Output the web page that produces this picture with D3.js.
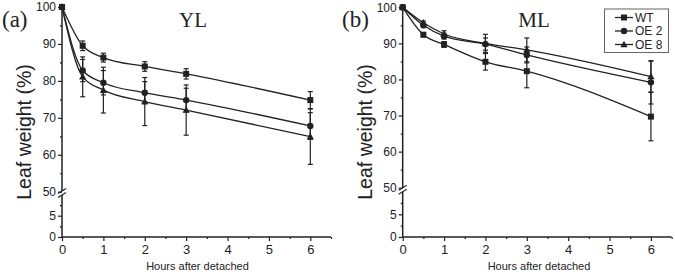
<!DOCTYPE html>
<html><head><meta charset="utf-8">
<script src="https://cdn.jsdelivr.net/npm/d3@7"></script>
<style>
body{margin:0;background:#fff;}
svg{display:block;}
text{font-family:"Liberation Sans",Arial,sans-serif;fill:#222;}
</style></head><body>
<svg id="c" width="675" height="275"></svg>
<script>
const hours = [0, 0.5, 1, 2, 3, 6];
const seriesNames = ["WT", "OE 2", "OE 8"];
const markerTypes = ["square", "circle", "triangle"];
const xTicks = [0, 1, 2, 3, 4, 5, 6];
const yUpperTicks = [50, 60, 70, 80, 90, 100];
const yLowerTicks = [0, 5];

// YL panel
const ylWT = [100, 89.5, 86.3, 83.9, 81.9, 74.8];
const ylWTErr = [0, 1.3, 1.2, 1.3, 1.4, 2.3];
const ylOE2 = [100, 82.8, 79.5, 76.8, 74.8, 67.8];
const ylOE2Err = [0, 3.0, 3.3, 3.0, 3.2, 3.6];
const ylOE8 = [100, 81.1, 77.5, 74.4, 72.1, 64.9];
const ylOE8Err = [0, 5.4, 6.2, 6.5, 6.8, 7.5];
// ML panel
const mlWT = [100, 92.4, 89.7, 84.9, 82.3, 69.7];
const mlWTErr = [0, 0.6, 0.8, 2.3, 4.6, 6.7];
const mlOE2 = [100, 95.0, 92.0, 89.8, 86.8, 79.2];
const mlOE2Err = [0, 0.6, 0.8, 1.7, 2.2, 6.0];
const mlOE8 = [100, 95.7, 92.6, 90.0, 88.2, 80.8];
const mlOE8Err = [0, 0.5, 0.9, 2.5, 3.3, 4.3];

const svg = d3.select("#c");
const ink = "#222";

function panel(cfg) {
  const g = svg.append("g");
  const x = d3.scaleLinear().domain([0, 6.5]).range([cfg.x0, cfg.x1]);
  const yU = d3.scaleLinear().domain([50, 100]).range([cfg.y50, cfg.y100]);
  const yL = d3.scaleLinear().domain([0, 10]).range([cfg.y0, cfg.y10]);
  const y = v => v >= 50 ? yU(v) : yL(v);
  const breakY = (yU(50) + yL(10)) / 2;

  // y axis line (with break)
  g.append("line").attr("x1", x(0)).attr("x2", x(0)).attr("y1", yL(0)).attr("y2", breakY + 2)
    .attr("stroke", ink).attr("stroke-width", 1.5);
  g.append("line").attr("x1", x(0)).attr("x2", x(0)).attr("y1", breakY - 2).attr("y2", yU(100))
    .attr("stroke", ink).attr("stroke-width", 1.5);
  [-2, 2].forEach(d => {
    g.append("line").attr("x1", x(0) - 4).attr("x2", x(0) + 4)
      .attr("y1", breakY + d + 2.5).attr("y2", breakY + d - 2.5)
      .attr("stroke", ink).attr("stroke-width", 1.2);
  });

  const styleAxis = sel => {
    sel.select(".domain").remove();
    sel.selectAll("line").attr("stroke", ink).attr("stroke-width", 1.2);
    sel.selectAll("text").attr("font-size", 12).attr("fill", ink)
      .style("font-family", '"Liberation Sans",Arial,sans-serif');
  };
  g.append("g").attr("transform", `translate(${x(0)},0)`)
    .call(d3.axisLeft(yU).tickValues(yUpperTicks).tickSize(4).tickPadding(2)).call(styleAxis);
  g.append("g").attr("transform", `translate(${x(0)},0)`)
    .call(d3.axisLeft(yU).tickValues([55, 65, 75, 85, 95]).tickSize(2).tickFormat("")).call(styleAxis);
  g.append("g").attr("transform", `translate(${x(0)},0)`)
    .call(d3.axisLeft(yL).tickValues(yLowerTicks).tickSize(4).tickPadding(2)).call(styleAxis);
  g.append("g").attr("transform", `translate(${x(0)},0)`)
    .call(d3.axisLeft(yL).tickValues([2.5, 7.5]).tickSize(2).tickFormat("")).call(styleAxis);

  // x axis
  g.append("line").attr("x1", x(0)).attr("x2", x(6.5)).attr("y1", yL(0)).attr("y2", yL(0))
    .attr("stroke", ink).attr("stroke-width", 1.5);
  const xa = g.append("g").attr("transform", `translate(0,${yL(0)})`)
    .call(d3.axisBottom(x).tickValues(xTicks).tickSize(4).tickPadding(4).tickFormat(d3.format("d"))).call(styleAxis);
  xa.selectAll("text").attr("font-size", 13);
  g.append("g").attr("transform", `translate(0,${yL(0)})`)
    .call(d3.axisBottom(x).tickValues([0.5, 1.5, 2.5, 3.5, 4.5, 5.5, 6.5]).tickSize(2).tickFormat("")).call(styleAxis);

  // labels
  g.append("text").attr("x", cfg.xlabX).attr("y", 270).attr("text-anchor", "middle")
    .attr("font-size", 11).text("Hours after detached");
  g.append("text").attr("transform", `translate(${cfg.ylabX},${cfg.ylabY}) rotate(-90)`)
    .attr("text-anchor", "middle").attr("font-size", 19.5).text("Leaf weight (%)");
  g.append("text").attr("x", cfg.tagX).attr("y", 27).attr("font-size", 23)
    .style("font-family", '"Liberation Serif","Times New Roman",serif').text(cfg.tag);
  g.append("text").attr("x", cfg.titleX).attr("y", 27).attr("text-anchor", "middle").attr("font-size", 21)
    .style("font-family", '"Liberation Serif","Times New Roman",serif').text(cfg.title);

  const line = d3.line().x(d => x(d[0])).y(d => y(d[1])).curve(cfg.curve);
  cfg.series.forEach((s, i) => {
    const pts = hours.map((h, j) => [h, s.v[j], s.e[j]]);
    // error bars
    pts.filter(p => p[2] > 0).forEach(p => {
      const cx = x(p[0]);
      g.append("line").attr("x1", cx).attr("x2", cx).attr("y1", y(p[1] - p[2])).attr("y2", y(p[1] + p[2]))
        .attr("stroke", ink).attr("stroke-width", 1.2);
      [p[1] - p[2], p[1] + p[2]].forEach(v => {
        g.append("line").attr("x1", cx - 2.5).attr("x2", cx + 2.5).attr("y1", y(v)).attr("y2", y(v))
          .attr("stroke", ink).attr("stroke-width", 1.2);
      });
    });
    g.append("path").datum(pts).attr("d", line).attr("fill", "none").attr("stroke", ink).attr("stroke-width", 1.3);
    pts.forEach(p => drawMarker(g, markerTypes[i], x(p[0]), y(p[1])));
  });
}

function drawMarker(g, type, cx, cy) {
  if (type === "square") {
    g.append("rect").attr("x", cx - 3).attr("y", cy - 3).attr("width", 6).attr("height", 6).attr("fill", ink);
  } else if (type === "circle") {
    g.append("circle").attr("cx", cx).attr("cy", cy).attr("r", 3.2).attr("fill", ink);
  } else {
    g.append("path").attr("d", `M${cx},${cy - 3.8}L${cx + 3.6},${cy + 2.8}L${cx - 3.6},${cy + 2.8}Z`).attr("fill", ink);
  }
}

panel({
  x0: 62, x1: 331, y0: 237, y10: 194.4, y50: 191.7, y100: 7,
  ylabX: 31, ylabY: 132, xlabX: 197.5, tagX: 2, tag: "(a)", titleX: 193, title: "YL",
  curve: d3.curveMonotoneX,
  series: [{v: ylWT, e: ylWTErr}, {v: ylOE2, e: ylOE2Err}, {v: ylOE8, e: ylOE8Err}]
});
panel({
  x0: 402.7, x1: 671.6, y0: 237, y10: 191.6, y50: 187.7, y100: 7.3,
  ylabX: 372, ylabY: 132, xlabX: 539, tagX: 342, tag: "(b)", titleX: 534, title: "ML",
  curve: d3.curveMonotoneX,
  series: [{v: mlWT, e: mlWTErr}, {v: mlOE2, e: mlOE2Err}, {v: mlOE8, e: mlOE8Err}]
});

// legend
const lg = svg.append("g");
lg.append("rect").attr("x", 604.5).attr("y", 9).attr("width", 64).attr("height", 43.5)
  .attr("fill", "#fff").attr("stroke", "#666").attr("stroke-width", 1);
seriesNames.forEach((n, i) => {
  const ly = 17.5 + i * 13.5;
  lg.append("line").attr("x1", 615).attr("x2", 633).attr("y1", ly).attr("y2", ly).attr("stroke", ink).attr("stroke-width", 1.3);
  drawMarker(lg, markerTypes[i], 624, ly);
  lg.append("text").attr("x", 635).attr("y", ly + 4.3).attr("font-size", 12).text(n);
});
</script></body></html>
